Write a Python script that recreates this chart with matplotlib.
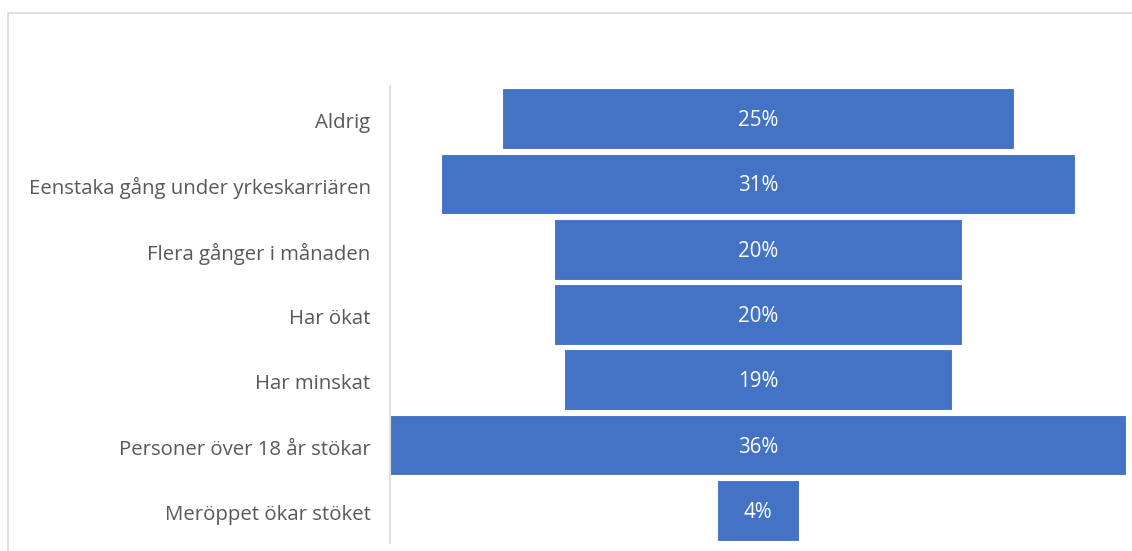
import matplotlib
matplotlib.use('Agg')
import matplotlib.pyplot as plt
import matplotlib.transforms as mtransforms
from matplotlib.patches import Rectangle

categories = [
    "Aldrig",
    "Eenstaka gång under yrkeskarriären",
    "Flera gånger i månaden",
    "Har ökat",
    "Har minskat",
    "Personer över 18 år stökar",
    "Meröppet ökar stöket",
]
values = [25, 31, 20, 20, 19, 36, 4]

plt.rcParams['font.family'] = ['Open Sans', 'DejaVu Sans']

fig = plt.figure(figsize=(11.32, 5.51), dpi=100)
ax = fig.add_axes([390 / 1132, 8 / 551, 736 / 1132, 457 / 551])

y = list(range(len(values)))
lefts = [-v / 2 for v in values]
ax.barh(y, values, left=lefts, height=0.93, color='#4472C4',
        edgecolor='white', linewidth=0.8)

for yi, v in zip(y, values):
    ax.text(0, yi + 0.03, f"{v}%", ha='center', va='center', color='white', fontsize=14.8)

ax.set_xlim(-18, 18)
ax.set_ylim(len(values) - 0.5, -0.5)
ax.set_yticks(y)
ax.set_yticklabels(categories, fontsize=14.7, color='#595959')
ax.tick_params(axis='y', length=0, pad=14)
# nudge the category labels down a little
shift = mtransforms.ScaledTranslation(0, -2 / 100, fig.dpi_scale_trans)
for lbl in ax.get_yticklabels():
    lbl.set_transform(lbl.get_transform() + shift)
ax.set_xticks([])
for side in ['top', 'right', 'bottom']:
    ax.spines[side].set_visible(False)
ax.spines['left'].set_color('#d9d9d9')
ax.spines['left'].set_linewidth(1.2)

# chart area border (cut off at right and bottom)
fig.patches.append(Rectangle((8 / 1132, -0.1), 1.2, 1.1 - 13 / 551,
                             transform=fig.transFigure, fill=False,
                             edgecolor='#d9d9d9', linewidth=1.2))

fig.savefig('out.png', dpi=100)
